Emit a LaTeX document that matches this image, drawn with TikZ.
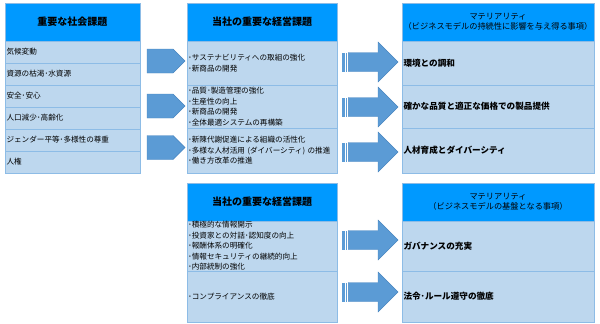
\documentclass[tikz,border=0pt]{standalone}
\usepackage{fontspec}
\newfontfamily\jp{Noto Sans CJK JP}
\definecolor{hdr}{HTML}{0099FF}
\definecolor{rowc}{HTML}{BDD7EE}
\definecolor{brd}{HTML}{8DBCE6}
\definecolor{arr}{HTML}{5B9BD5}
\definecolor{arrd}{HTML}{4A86C0}
\tikzset{
  cell/.style={draw=brd, line width=0.8pt, fill=rowc, anchor=north west, inner sep=0pt, outer sep=0pt,
    font=\jp\fontsize{7.6}{10.5}\selectfont, align=left},
  hcell/.style={cell, fill=hdr, align=center, font=\jp\bfseries\fontsize{10}{12}\selectfont},
  mcell/.style={cell, fill=hdr, align=center, font=\jp\fontsize{8.2}{10.5}\selectfont},
  rcell/.style={cell, font=\jp\bfseries\fontsize{8.6}{11}\selectfont},
  arrowshape/.style={fill=arr, draw=arrd, line width=0.4pt},
}
\newcommand{\smallarrow}[1]{%
  \fill[arrowshape] (147,#1-12) -- (173,#1-12) -- (185,#1) -- (173,#1+12) -- (147,#1+12) -- cycle;}
\newcommand{\bigarrow}[1]{%
  \fill[arr] (342,#1-9.5) rectangle (344.7,#1+9.5);
  \fill[arr] (345.7,#1-9.5) rectangle (347.1,#1+9.5);
  \fill[arrowshape] (348.3,#1-9.5) -- (378,#1-9.5) -- (378,#1-20) -- (398,#1) -- (378,#1+20) -- (378,#1+9.5) -- (348.3,#1+9.5) -- cycle;}
\begin{document}
\begin{tikzpicture}[x=1pt,y=-1pt]
\useasboundingbox (0,0) rectangle (600,324);
% left column
\node[hcell, minimum width=135pt, minimum height=38pt] (lh) at (5,3) {重要な社会課題};
\node[cell, minimum width=135pt, minimum height=22pt, text width=132pt] (l1) at (5,41) {気候変動};
\node[cell, minimum width=135pt, minimum height=22pt, text width=132pt] (l2) at (5,63) {資源の枯渇･水資源};
\node[cell, minimum width=135pt, minimum height=22pt, text width=132pt] (l3) at (5,85) {安全･安心};
\node[cell, minimum width=135pt, minimum height=22pt, text width=132pt] (l4) at (5,107) {人口減少･高齢化};
\node[cell, minimum width=135pt, minimum height=22pt, text width=132pt] (l5) at (5,129) {ジェンダー平等･多様性の尊重};
\node[cell, minimum width=135pt, minimum height=22pt, text width=132pt] (l6) at (5,151) {人権};
% middle column top
\node[hcell, minimum width=150pt, minimum height=38pt] (mh) at (187,3) {当社の重要な経営課題};
\node[cell, minimum width=150pt, minimum height=44pt, text width=148pt] (m1) at (187,41) {･サステナビリティへの取組の強化\\･新商品の開発};
\node[cell, minimum width=150pt, minimum height=43pt, text width=148pt] (m2) at (187,85) {･品質･製造管理の強化\\･生産性の向上\\･新商品の開発\\･全体最適システムの再構築};
\node[cell, minimum width=150pt, minimum height=45pt, text width=148pt] (m3) at (187,128) {･新陳代謝促進による組織の活性化\\･多様な人材活用 (ダイバーシティ) の推進\\･働き方改革の推進};
% right column top
\node[mcell, minimum width=192pt, minimum height=38pt] (rh) at (402,3) {マテリアリティ\\（ビジネスモデルの持続性に影響を与え得る事項）};
\node[rcell, minimum width=192pt, minimum height=44pt, text width=189pt] (r1) at (402,41) {環境との調和};
\node[rcell, minimum width=192pt, minimum height=43pt, text width=189pt] (r2) at (402,85) {確かな品質と適正な価格での製品提供};
\node[rcell, minimum width=192pt, minimum height=45pt, text width=189pt] (r3) at (402,128) {人材育成とダイバーシティ};
% middle column bottom
\node[hcell, minimum width=150pt, minimum height=38pt] (bh) at (187,183) {当社の重要な経営課題};
\node[cell, minimum width=150pt, minimum height=50pt, text width=148pt] (b1) at (187,221) {･積極的な情報開示\\･投資家との対話･認知度の向上\\･報酬体系の明確化\\･情報セキュリティの継続的向上\\･内部統制の強化};
\node[cell, minimum width=150pt, minimum height=51pt, text width=148pt] (b2) at (187,271) {･コンプライアンスの徹底};
% right column bottom
\node[mcell, minimum width=192pt, minimum height=38pt] (sh) at (402,183) {マテリアリティ\\（ビジネスモデルの基盤となる事項）};
\node[rcell, minimum width=192pt, minimum height=50pt, text width=189pt] (s1) at (402,221) {ガバナンスの充実};
\node[rcell, minimum width=192pt, minimum height=51pt, text width=189pt] (s2) at (402,271) {法令･ルール遵守の徹底};
% arrows
\smallarrow{61}
\smallarrow{106}
\smallarrow{147.5}
\bigarrow{62}
\bigarrow{107}
\bigarrow{152}
\bigarrow{240}
\bigarrow{292}
\end{tikzpicture}
\end{document}
